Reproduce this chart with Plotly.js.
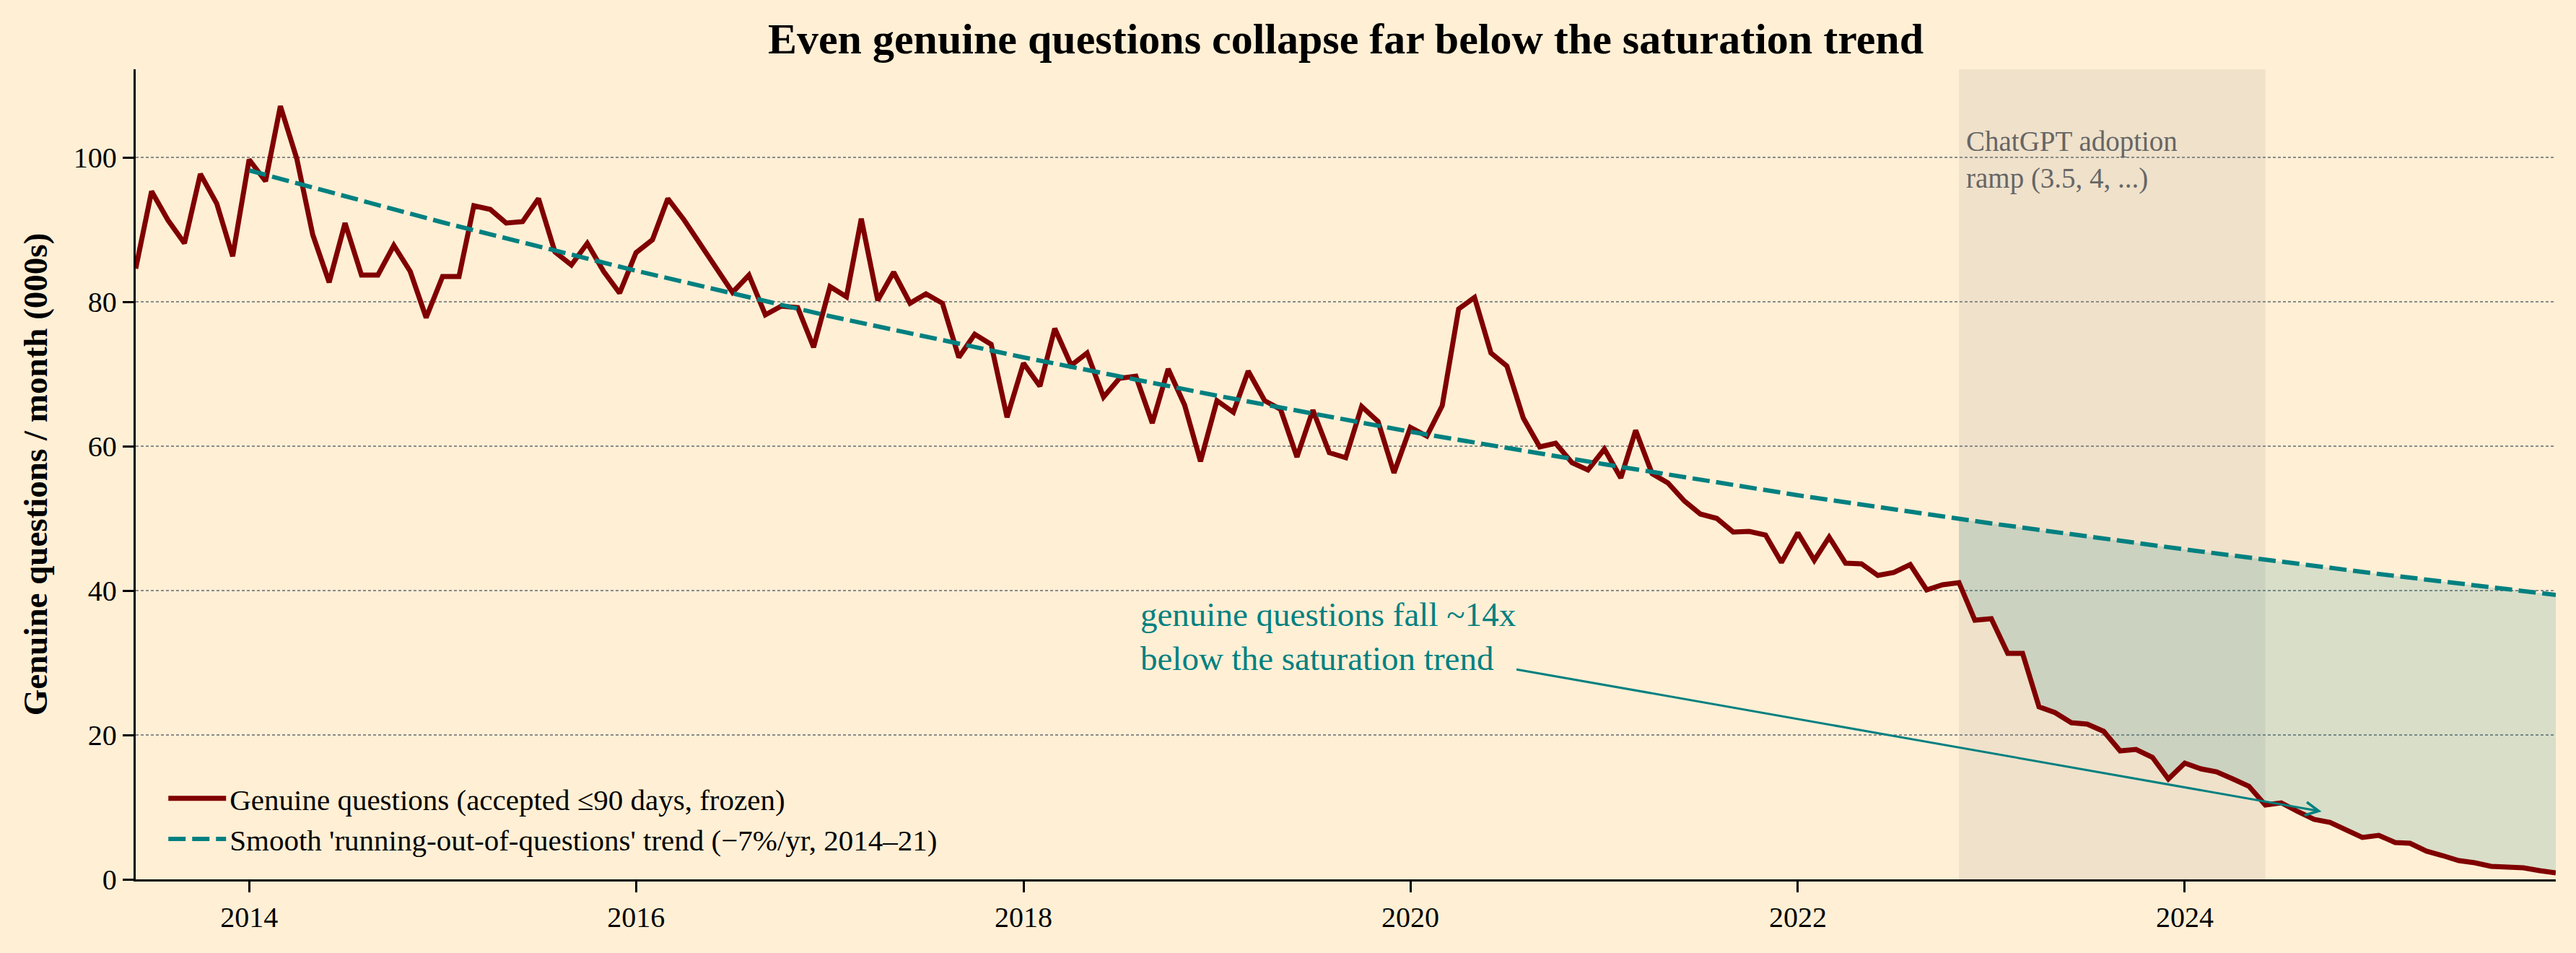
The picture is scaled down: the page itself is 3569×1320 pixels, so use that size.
<!DOCTYPE html>
<html>
<head>
<meta charset="utf-8">
<script src="https://cdn.plot.ly/plotly-3.0.1.min.js"></script>
<style>
  html, body { margin: 0; padding: 0; background: #ffefd5; }
  #grafico { width: 3569px; height: 1320px; }
</style>
</head>
<body>
<div id="grafico"></div>
<script>
// monthly series, first point = June 2013
const startYear = 2013;
const startMonth = 6;
const genuine = [
  84.6, 95.3, 91.3, 88.1, 97.7, 93.6, 86.3,
  99.7, 96.7, 107.1, 99.8, 89.3, 82.7, 90.9, 83.7, 83.7, 87.8, 84.2, 77.8,
  83.5, 83.5, 93.3, 92.8, 90.9, 91.1, 94.3, 86.9, 85.1, 88.1, 84.2, 81.2,
  86.8, 88.6, 94.3, 91.3, 87.9, 84.6, 81.3, 83.7, 78.2, 79.4, 79.2, 73.7,
  82.1, 80.7, 91.5, 80.2, 84.1, 79.8, 81.1, 79.8, 72.3, 75.5, 74.1, 64.0,
  71.5, 68.3, 76.3, 71.2, 72.9, 66.8, 69.4, 69.7, 63.2, 70.7, 65.7, 57.9,
  66.3, 64.7, 70.4, 66.3, 65.1, 58.5, 65.0, 59.1, 58.4, 65.5, 63.4, 56.3,
  62.6, 61.4, 65.6, 79.0, 80.6, 72.9, 71.1, 63.9, 59.9, 60.4, 57.7, 56.7,
  59.6, 55.6, 62.2, 56.2, 54.9, 52.4, 50.6, 50.0, 48.1, 48.2, 47.7, 43.9,
  48.0, 44.2, 47.4, 43.8, 43.7, 42.1, 42.5, 43.6, 40.1, 40.8, 41.1, 35.9,
  36.1, 31.3, 31.3, 23.9, 23.1, 21.7, 21.5, 20.5, 17.8, 18.0, 16.9, 13.9,
  16.1, 15.3, 14.9, 13.9, 12.9, 10.3, 10.6, 9.4, 8.3, 7.9, 6.9, 5.8,
  6.1, 5.1, 5.0, 3.9, 3.3, 2.6, 2.3, 1.8, 1.7, 1.6, 1.2, 0.9
];

// smooth saturation trend
const trendDates = ['2014-01-01', '2015-01-01', '2016-01-01', '2017-01-01', '2018-01-01',
  '2019-01-01', '2020-01-01', '2021-01-01', '2022-01-01', '2022-11-01', '2023-01-01',
  '2024-01-01', '2025-01-01', '2025-12-01'];
const trendValues = [98.2, 91.0, 84.3, 78.0, 72.3, 67.0, 62.0, 57.5, 53.2, 49.9, 49.3, 45.7, 42.3, 39.4];

const spanStart = '2022-11-01';
const spanEnd = '2024-06-01';
const yearTicks = ['2014', '2016', '2018', '2020', '2022', '2024'];
const yTicks = [0, 20, 40, 60, 80, 100];

const months = genuine.map((_, i) => {
  const d = new Date(Date.UTC(startYear, startMonth - 1 + i, 1));
  return d.toISOString().slice(0, 10);
});

// gap between trend and data after the ChatGPT start
const fillIdx = months.indexOf(spanStart);
const trendFillX = trendDates.filter(d => d >= spanStart);
const trendFillY = trendValues.filter((_, i) => trendDates[i] >= spanStart);

const teal = '#008080';
const maroon = '#800000';

var trendFill = {
  x: trendFillX, y: trendFillY,
  mode: 'lines', line: {width: 0, color: teal},
  showlegend: false, hoverinfo: 'skip'
};
var gapFill = {
  x: months.slice(fillIdx), y: genuine.slice(fillIdx),
  mode: 'lines', line: {width: 0, color: teal},
  fill: 'tonexty', fillcolor: 'rgba(0,128,128,0.15)',
  showlegend: false, hoverinfo: 'skip'
};
var genuineLine = {
  x: months, y: genuine,
  mode: 'lines', type: 'scatter',
  line: {color: maroon, width: 7},
  name: 'Genuine questions (accepted ≤90 days, frozen)'
};
var trendLine = {
  x: trendDates, y: trendValues,
  mode: 'lines', type: 'scatter',
  line: {color: teal, width: 6, dash: '24px,9px'},
  name: "Smooth 'running-out-of-questions' trend (−7%/yr, 2014–21)"
};

var layout = {
  width: 3569, height: 1320,
  paper_bgcolor: '#ffefd5', plot_bgcolor: '#ffefd5',
  margin: {l: 188, r: 28, t: 96, b: 102},
  font: {family: 'Liberation Serif, serif', color: '#000', size: 40},
  title: {
    text: 'Even genuine questions collapse far below the saturation trend',
    font: {size: 60, weight: 'bold'},
    x: 0.5, xref: 'paper', xanchor: 'center',
    y: 1 - 53 / 1320, yref: 'container', yanchor: 'middle'
  },
  xaxis: {
    type: 'date', range: ['2013-06-01', '2025-12-01'],
    tickvals: yearTicks.map(y => y + '-01-01'), ticktext: yearTicks,
    ticks: 'outside', ticklen: 15, tickwidth: 3, tickcolor: '#000',
    showline: true, linecolor: '#000', linewidth: 3.3,
    showgrid: false, zeroline: false, tickfont: {size: 40}
  },
  yaxis: {
    range: [0, 112.2], tickvals: yTicks,
    ticks: 'outside', ticklen: 15, tickwidth: 3, tickcolor: '#000',
    showline: true, linecolor: '#000', linewidth: 3.3,
    showgrid: true, gridcolor: '#8a8a8a', gridwidth: 1.5, griddash: '4px,3px',
    zeroline: false, tickfont: {size: 40},
    title: {text: 'Genuine questions / month (000s)', font: {size: 47, weight: 'bold'}, standoff: 22}
  },
  legend: {
    x: 0.012, y: 0.02, xanchor: 'left', yanchor: 'bottom', traceorder: 'normal',
    itemwidth: 80,
    bgcolor: 'rgba(0,0,0,0)', font: {size: 41}
  },
  shapes: [{
    type: 'rect', xref: 'x', yref: 'paper',
    x0: spanStart, x1: spanEnd, y0: 0, y1: 1,
    fillcolor: 'rgba(128,128,128,0.13)', line: {width: 0}, layer: 'below'
  }],
  annotations: [
    {
      x: spanStart, y: 104.6, xref: 'x', yref: 'y', xshift: 8,
      xanchor: 'left', yanchor: 'top', align: 'left', showarrow: false,
      text: 'ChatGPT adoption<br>ramp (3.5, 4, ...)',
      font: {size: 39, color: '#666666'}
    },
    {
      x: '2024-09-15', y: 9.4, xref: 'x', yref: 'y',
      ax: '2019-07-29', ay: 33.7, axref: 'x', ayref: 'y',
      text: 'genuine questions fall ~14x<br>below the saturation trend',
      align: 'left', font: {size: 47, color: teal},
      showarrow: true, arrowcolor: teal, arrowwidth: 3, arrowhead: 5, arrowsize: 1.2, standoff: 0
    }
  ]
};

Plotly.newPlot('grafico', [trendFill, gapFill, genuineLine, trendLine], layout, {displayModeBar: false});
</script>
</body>
</html>
